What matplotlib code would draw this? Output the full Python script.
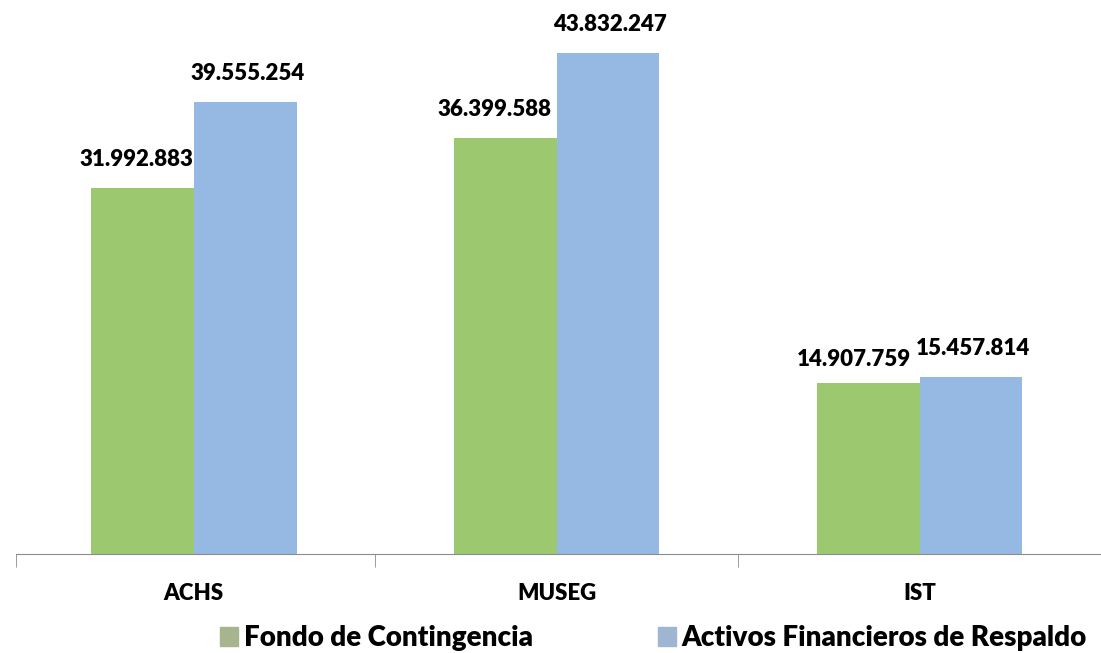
import matplotlib.pyplot as plt
from matplotlib.patches import Patch
import numpy as np

# datos
categorias = ['ACHS', 'MUSEG', 'IST']
fondo = [31992883, 36399588, 14907759]
activos = [39555254, 43832247, 15457814]
series = ['Fondo de Contingencia', 'Activos Financieros de Respaldo']

verde = '#9cc970'
azul = '#95b9e3'

plt.rcParams['font.family'] = ['Lato', 'DejaVu Sans']

fig = plt.figure(figsize=(11.01, 6.53), dpi=100)
ax = fig.add_axes([16 / 1101, 99 / 653, 1 - 16 / 1101, 549 / 653])

x = np.arange(len(categorias))
w = 0.283
b1 = ax.bar(x - w / 2, fondo, w, color=verde)
b2 = ax.bar(x + w / 2, activos, w, color=azul)


def fmt(v):
    return f'{v:,}'.replace(',', '.')


# desplazamientos de las etiquetas (puntos), como en el original
dx_verde = [-4.5, -8, -10]
dy_verde = [13, 13, 10]
for r, v, dx, dy in zip(b1, fondo, dx_verde, dy_verde):
    ax.annotate(fmt(v), (r.get_x() + r.get_width() / 2, v), xytext=(dx, dy),
                textcoords='offset points', ha='center', va='bottom',
                fontsize=16, fontweight='heavy')
for r, v in zip(b2, activos):
    ax.annotate(fmt(v), (r.get_x() + r.get_width() / 2, v), xytext=(1.5, 13),
                textcoords='offset points', ha='center', va='bottom',
                fontsize=16, fontweight='heavy')

ax.set_xlim(-0.49, 2.482)
ax.set_ylim(0, 48000000)
ax.set_yticks([])
for s in ['top', 'right', 'left']:
    ax.spines[s].set_visible(False)
ax.spines['bottom'].set_color('#8c8c8c')
ax.set_xticks(x)
ax.set_xticklabels(categorias, fontsize=16, fontweight='heavy')
ax.tick_params(axis='x', which='major', length=0, pad=21)
ax.set_xticks([ax.get_xlim()[0], 0.5, 1.5, 2.5], minor=True)
ax.tick_params(axis='x', which='minor', length=9, color='#8c8c8c')

handles = [Patch(color='#a6b58e'), Patch(color='#9fb6d3')]
leg = fig.legend(handles, series, loc='center left', bbox_to_anchor=(220 / 1101, 15 / 653),
                 ncol=2, frameon=False, fontsize=20, handlelength=0.65, handleheight=0.65,
                 columnspacing=4.5, handletextpad=0.2, borderpad=0, borderaxespad=0)
for t in leg.get_texts():
    t.set_fontweight('heavy')

fig.savefig('out.png', dpi=100)
